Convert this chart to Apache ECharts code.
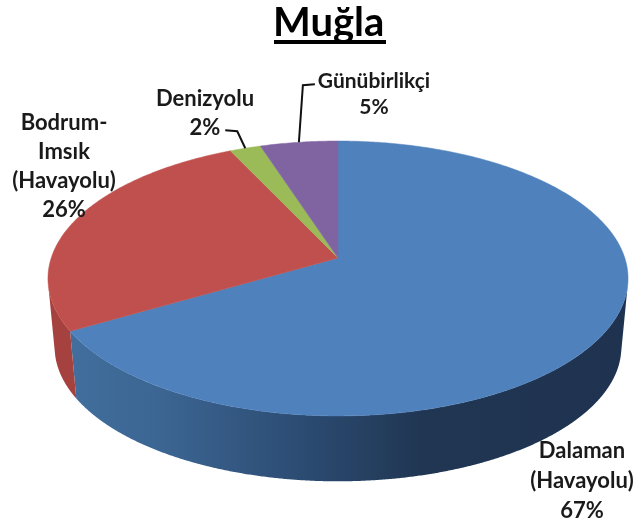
<!DOCTYPE html>
<html>
<head>
<meta charset="utf-8">
<style>html,body{margin:0;padding:0;background:#fff}#c{width:636px;height:522px}</style>
<script src="https://cdn.jsdelivr.net/npm/echarts@6/dist/echarts.min.js"></script>
</head>
<body>
<div id="c"></div>
<script>
var titleText = 'Muğla';
var categories = ['Dalaman\n(Havayolu)', 'Bodrum-\nImsık\n(Havayolu)', 'Denizyolu', 'Günübirlikçi'];
var values = [66.6, 26.4, 2, 5];

var topColors = ['#4f81bd', '#c0504d', '#9bbb59', '#8064a2'];
var wallColors = ['#35598a', '#a5423f', '#7f9a48', '#66508a'];
var labelBoxes = [
  {x: 582, y: 481, size: 22, lh: 30},
  {x: 64, y: 166, size: 22, lh: 29},
  {x: 205, y: 113, size: 22, lh: 29},
  {x: 374, y: 94, size: 21, lh: 26}
];
var leaders = [
  null,
  null,
  [[-8, -17], [-20, -18]],
  [[4, -57], [16, -58]]
];

var total = values.reduce(function (a, b) { return a + b; }, 0);
var cx = 338, apexY = 258, B = 286.8, A = 134.4, K = 0.149;
var wallDrop = 69, wallScale = 0.977;

function topPoint(theta) {
  var u = Math.sin(theta), v = Math.cos(theta), w = 1 + K * v;
  return [cx + B * u / w, apexY - A * v / w];
}
function bottomPoint(theta) {
  var p = topPoint(theta);
  return [cx + (p[0] - cx) * wallScale, apexY + wallDrop + (p[1] - apexY) * wallScale];
}
function sliceAngles(i) {
  var before = 0;
  for (var k = 0; k < i; k++) before += values[k];
  return [before / total * 2 * Math.PI, (before + values[i]) / total * 2 * Math.PI];
}
function arc(fn, a0, a1) {
  var n = Math.max(8, Math.ceil((a1 - a0) / 0.01)), pts = [];
  for (var j = 0; j <= n; j++) pts.push(fn(a0 + (a1 - a0) * j / n));
  return pts;
}
// The part of a slice's rim that faces the viewer: the extrusion points away from the top face.
function frontFacing(theta) {
  var p = topPoint(theta), q = topPoint(theta + 0.001), b = bottomPoint(theta);
  return (q[0] - p[0]) * (b[1] - p[1]) - (q[1] - p[1]) * (b[0] - p[0]) < 0;
}
var blueWall = {
  type: 'linear', x: 55, y: 0, x2: 622, y2: 0, global: true,
  colorStops: [
    {offset: 0, color: '#42709f'},
    {offset: 0.2, color: '#3b6491'},
    {offset: 0.45, color: '#2b4a70'},
    {offset: 0.65, color: '#203652'},
    {offset: 1, color: '#1f3350'}
  ]
};

var option = {
  backgroundColor: '#ffffff',
  animation: false,
  title: {
    text: titleText, left: 268, top: -2,
    textStyle: {fontFamily: 'Lato', fontWeight: 'bold', fontSize: 40, color: '#000'}
  },
  graphic: [{type: 'rect', shape: {x: 274, y: 40, width: 112, height: 4}, style: {fill: '#000'}}],
  series: [
    {
      type: 'custom', coordinateSystem: 'none', silent: true, z: 1, clip: false,
      data: values,
      renderItem: function (params) {
        var i = params.dataIndex, a = sliceAngles(i), angles = [];
        var n = Math.ceil((a[1] - a[0]) / 0.005);
        for (var j = 0; j <= n; j++) {
          var t = a[0] + (a[1] - a[0]) * j / n;
          if (frontFacing(t)) angles.push(t);
        }
        if (angles.length < 2) return {type: 'group', children: []};
        var pts = angles.map(topPoint).concat(angles.slice().reverse().map(bottomPoint));
        return {type: 'polygon', shape: {points: pts},
          style: {fill: i === 0 ? blueWall : wallColors[i], stroke: null}};
      }
    },
    {
      type: 'custom', coordinateSystem: 'none', silent: true, z: 2, clip: false,
      data: values,
      renderItem: function (params) {
        var i = params.dataIndex, a = sliceAngles(i);
        var pts = [[cx, apexY]].concat(arc(topPoint, a[0], a[1]));
        return {type: 'polygon', shape: {points: pts},
          style: {fill: topColors[i], stroke: topColors[i], lineWidth: 0.5}};
      }
    },
    {
      type: 'custom', coordinateSystem: 'none', silent: true, z: 3, clip: false,
      data: values,
      renderItem: function (params) {
        var i = params.dataIndex, a = sliceAngles(i), box = labelBoxes[i], kids = [];
        var pct = Math.round(values[i] / total * 100) + '%';
        kids.push({type: 'text', style: {
          text: categories[i] + '\n' + pct, x: box.x, y: box.y, align: 'center', verticalAlign: 'middle',
          fontFamily: 'Lato', fontWeight: 'bold', fontSize: box.size, lineHeight: box.lh, fill: '#1a1a1a'
        }});
        if (leaders[i]) {
          var p = topPoint((a[0] + a[1]) / 2);
          var line = [p].concat(leaders[i].map(function (o) { return [p[0] + o[0], p[1] + o[1]]; }));
          kids.push({type: 'polyline', shape: {points: line}, style: {stroke: '#111', lineWidth: 2, fill: null}});
        }
        return {type: 'group', children: kids};
      }
    }
  ]
};
echarts.init(document.getElementById('c'), null, {renderer: 'canvas'}).setOption(option);
</script>
</body>
</html>
